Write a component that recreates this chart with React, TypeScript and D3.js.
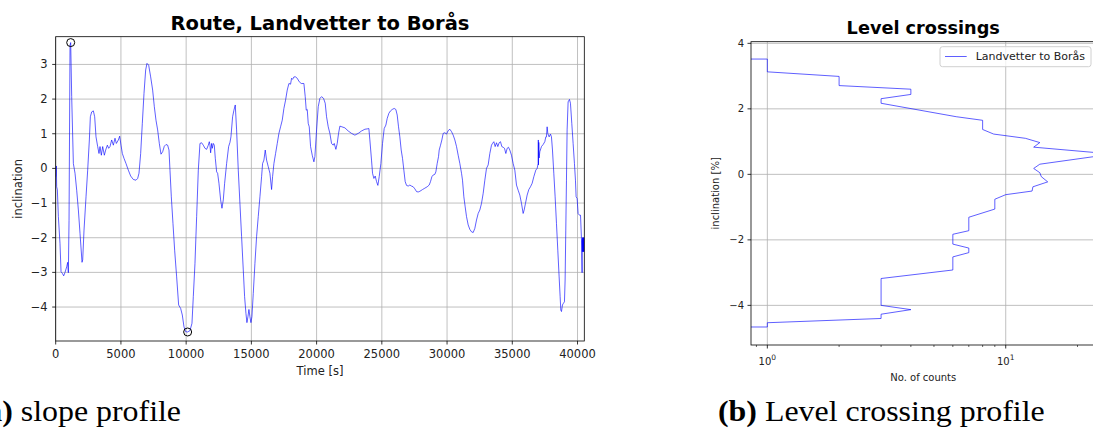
import React from "react";
import * as d3 from "d3";

// Slope profile, Landvetter -> Borås: time [s] and inclination [%]
const timeS = [
  0, 51, 74, 128, 204, 329, 409, 511, 613, 715, 843, 919, 970, 1022, 1098, 1149, 1226, 1354, 1481, 1609,
  1737, 1865, 2018, 2069, 2171, 2324, 2452, 2580, 2656, 2758, 2886, 2988, 3090, 3218, 3320, 3397, 3499, 3601,
  3729, 3831, 3959, 4061, 4163, 4291, 4419, 4546, 4648, 4802, 4904, 5006, 5108, 5236, 5389, 5567, 5746, 5951,
  6155, 6283, 6385, 6513, 6640, 6768, 6896, 6998, 7126, 7279, 7432, 7560, 7688, 7815, 7943, 8071, 8198, 8326,
  8454, 8582, 8684, 8760, 8863, 8990, 9118, 9271, 9424, 9578, 9705, 9833, 9961, 10114, 10293, 10446, 10548,
  10676, 10804, 10931, 11059, 11187, 11315, 11442, 11570, 11698, 11774, 11826, 11877, 11953, 12005, 12081,
  12157, 12234, 12336, 12413, 12515, 12643, 12745, 12847, 12949, 13102, 13256, 13358, 13433, 13560, 13662,
  13765, 13867, 13995, 14122, 14250, 14378, 14480, 14582, 14659, 14735, 14812, 14888, 14965, 15042, 15144,
  15272, 15399, 15527, 15655, 15782, 15859, 15961, 16063, 16165, 16293, 16421, 16549, 16625, 16727, 16855,
  16983, 17110, 17238, 17366, 17493, 17621, 17749, 17877, 18004, 18081, 18158, 18260, 18387, 18515, 18668,
  18822, 19026, 19128, 19205, 19282, 19358, 19435, 19537, 19665, 19792, 19869, 19997, 20124, 20252, 20380,
  20533, 20660, 20763, 20890, 21018, 21146, 21273, 21350, 21478, 21580, 21682, 21784, 21937, 22167, 22423,
  22678, 22934, 23189, 23444, 23700, 23878, 24006, 24083, 24210, 24287, 24389, 24491, 24594, 24696, 24798,
  24926, 25053, 25181, 25309, 25411, 25539, 25666, 25794, 25947, 26075, 26177, 26279, 26381, 26484, 26586,
  26688, 26790, 26892, 27020, 27148, 27275, 27403, 27531, 27660, 27788, 27915, 28120, 28298, 28477, 28630,
  28732, 28835, 28937, 29065, 29141, 29243, 29345, 29397, 29499, 29601, 29703, 29831, 29958, 30086, 30214,
  30342, 30469, 30597, 30725, 30852, 30980, 31108, 31184, 31287, 31389, 31491, 31619, 31746, 31874, 32002,
  32129, 32257, 32385, 32512, 32640, 32768, 32896, 33023, 33151, 33279, 33406, 33483, 33585, 33687, 33789,
  33892, 33994, 34096, 34198, 34300, 34402, 34505, 34607, 34709, 34811, 34939, 35066, 35194, 35322, 35450,
  35577, 35705, 35833, 35909, 36011, 36139, 36267, 36394, 36522, 36650, 36803, 36905, 36982, 36995, 37007,
  37033, 37058, 37109, 37237, 37365, 37493, 37569, 37620, 37671, 37722, 37825, 37927, 38003, 38080, 38182,
  38284, 38387, 38489, 38591, 38668, 38719, 38770, 38846, 38923, 38999, 39050, 39101, 39152, 39203, 39280,
  39382, 39459, 39561, 39663, 39765, 39842, 39893, 39970, 40046, 40149, 40230, 40306, 40352, 40360, 40375,
  40390, 40405, 40420, 40435, 40450, 40465, 40480, 40495, 40506,
];
const slopePct = [
  -0.24, 0.07, -0.53, -0.62, -1.39, -2.16, -2.98, -3.03, -3.1, -3.0, -2.84, -2.71, -3.01, -1.5, 3.55, 3.63,
  2.07, 0.14, -0.14, -0.63, -1.2, -1.88, -2.71, -2.64, -1.78, -0.82, -0.05, 0.82, 1.49, 1.63, 1.66, 1.49, 0.91,
  0.63, 0.43, 0.63, 0.38, 0.63, 0.38, 0.53, 0.67, 0.58, 0.63, 0.82, 0.67, 0.87, 0.72, 0.82, 0.93, 0.67, 0.43,
  0.29, 0.14, -0.05, -0.22, -0.32, -0.34, -0.29, -0.14, 0.43, 1.3, 2.16, 2.84, 3.03, 2.98, 2.64, 2.26, 1.78,
  1.39, 1.11, 0.72, 0.41, 0.48, 0.64, 0.69, 0.67, 0.53, -0.05, -0.82, -1.59, -2.36, -3.13, -3.94, -4.04, -4.23,
  -4.57, -4.71, -4.72, -4.68, -4.47, -3.7, -2.74, -1.39, -0.05, 0.72, 0.74, 0.67, 0.58, 0.55, 0.67, 0.77, 0.67,
  0.45, 0.72, 0.58, 0.72, 0.67, 0.29, -0.1, -0.14, -0.43, -0.91, -1.15, -0.91, -0.43, 0.14, 0.63, 0.75, 0.91,
  1.49, 1.68, 1.83, 1.11, -0.05, -1.01, -1.97, -2.93, -3.7, -4.18, -4.45, -4.28, -4.07, -4.28, -4.45, -4.28,
  -3.61, -2.74, -1.97, -1.39, -0.82, -0.24, 0.14, 0.24, 0.53, 0.24, 0.05, -0.14, -0.61, -0.24, 0.14, 0.43,
  0.72, 1.01, 1.2, 1.39, 1.73, 1.97, 2.26, 2.45, 2.43, 2.6, 2.57, 2.64, 2.64, 2.6, 2.5, 2.45, 2.45, 2.07, 1.68,
  1.7, 1.3, 1.2, 0.63, 0.38, 0.19, 0.34, 1.11, 1.78, 2.02, 2.07, 2.02, 1.88, 1.49, 1.2, 1.01, 0.72, 0.67, 0.72,
  0.55, 0.72, 1.01, 1.22, 1.2, 1.17, 1.08, 1.01, 0.96, 1.01, 1.08, 1.13, 1.14, 1.15, 0.82, 0.24, -0.14, -0.29,
  -0.22, -0.38, -0.49, -0.24, 0.14, 0.72, 1.15, 1.25, 1.44, 1.59, 1.66, 1.7, 1.73, 1.7, 1.54, 1.2, 0.91, 0.53,
  0.29, -0.05, -0.38, -0.49, -0.51, -0.48, -0.51, -0.53, -0.59, -0.67, -0.68, -0.66, -0.61, -0.57, -0.53,
  -0.48, -0.38, -0.24, -0.19, -0.17, -0.1, 0.14, 0.34, 0.53, 0.67, 0.82, 1.01, 1.03, 0.99, 1.09, 1.13, 1.06,
  0.96, 0.82, 0.63, 0.38, 0.14, -0.14, -0.34, -0.82, -1.11, -1.39, -1.63, -1.76, -1.83, -1.85, -1.73, -1.49,
  -1.3, -1.2, -1.01, -0.72, -0.34, 0.0, 0.1, 0.43, 0.67, 0.72, 0.77, 0.63, 0.74, 0.63, 0.74, 0.77, 0.63, 0.61,
  0.58, 0.43, 0.58, 0.61, 0.53, 0.38, 0.14, -0.05, -0.48, -0.63, -0.77, -1.01, -1.3, -1.2, -1.01, -0.77, -0.61,
  -0.53, -0.43, -0.24, -0.05, 0.0, 0.14, 0.82, 0.1, 0.75, 0.3, 0.48, 0.63, 0.69, 0.77, 0.91, 0.91, 1.2, 1.01,
  0.91, 0.99, 0.91, 0.53, -0.14, -0.82, -1.59, -2.36, -3.13, -3.7, -4.09, -4.13, -3.94, -3.89, -3.85, -3.22,
  -1.78, -0.34, 1.11, 1.92, 1.99, 1.88, 1.3, 0.72, 0.14, -0.34, -0.82, -0.87, -1.3, -1.35, -1.35, -2.07, -3.01,
  -2.05, -2.4, -2.0, -2.4, -2.0, -2.4, -2.0, -2.4, -2.0, -2.4, -2.0, -2.3,
];

// Level crossing profile: inclination level [%] and number of crossings
const crossLevel = [
  3.52, 3.52, 3.13, 2.99, 2.71, 2.6, 2.44, 2.31, 2.17, 1.76, 1.65, 1.37, 1.23, 1.1, 0.97, 0.83, 0.62, 0.31,
  0.18, 0.05, -0.07, -0.23, -0.38, -0.51, -0.62, -0.76, -1.06, -1.31, -1.72, -1.83, -2.13, -2.25, -2.39, -2.52,
  -2.92, -3.18, -4.0, -4.13, -4.27, -4.4, -4.53, -4.66, -4.66,
];
const crossCount = [
  0, 1, 1, 2, 2, 4, 4, 3, 3, 6.2, 8, 8, 8.9, 12.1, 13.9, 13.1, 28, 13.9, 13.1, 13.9, 14.1, 15, 13, 12.9, 10,
  9, 9, 7, 7, 6, 6, 7, 7, 6, 6, 3, 3, 4, 3, 3, 1, 1, 0,
];

const timeTicks = [0, 5000, 10000, 15000, 20000, 25000, 30000, 35000, 40000];
const slopeTicks = [-4, -3, -2, -1, 0, 1, 2, 3];
const levelTicks = [-4, -2, 0, 2, 4];
const countMajorTicks = [1, 10];
const countMajorExp = ["0", "1"];

const FONT = "DejaVu Sans, Verdana, sans-serif";
const SERIF = "Liberation Serif, serif";
const LINE = "#0000ff";
const GRID = "#b0b0b0";

export default function App() {
  // left panel frame
  const L = { left: 55.7, right: 584.3, top: 36.7, bottom: 341 };
  const xL = d3.scaleLinear().domain([0, 40520]).range([L.left, L.right]);
  const yL = d3.scaleLinear().domain([-4.98, 3.8]).range([L.bottom, L.top]);

  // right panel frame
  const R = { left: 751, right: 1095.5, top: 41.7, bottom: 345 };
  const xR = d3.scaleLog().domain([0.854, 23.8]).range([R.left, R.right]);
  const yR = d3.scaleLinear().domain([-5.21, 4.05]).range([R.bottom, R.top]);

  const fmt = d3.format("d");

  const slopePts = timeS.map((t, i) => [t, slopePct[i]] as [number, number]);
  const slopePath = d3
    .line<[number, number]>()
    .x((d) => xL(d[0]))
    .y((d) => yL(d[1]))(slopePts) as string;

  const iMax = d3.maxIndex(slopePct);
  const iMin = d3.minIndex(slopePct);

  // zero counts fall below the log axis; they are pushed left and clipped
  const crossPts = crossLevel.map((lv, i) => [crossCount[i], lv] as [number, number]);
  const crossPath = d3
    .line<[number, number]>()
    .x((d) => xR(Math.max(d[0], 0.3)))
    .y((d) => yR(d[1]))(crossPts) as string;

  const minorCounts = xR.ticks().filter((v) => !countMajorTicks.includes(v));

  return (
    <svg
      width={1093}
      height={433}
      style={{ position: "absolute", left: 0, top: 0, background: "#fff" }}
      fontFamily={FONT}
    >
      <defs>
        <clipPath id="clipL">
          <rect x={L.left} y={L.top} width={L.right - L.left} height={L.bottom - L.top} />
        </clipPath>
        <clipPath id="clipR">
          <rect x={R.left} y={R.top} width={R.right - R.left} height={R.bottom - R.top} />
        </clipPath>
      </defs>
      <rect width={1093} height={433} fill="#fff" />

      {/* ---------- slope profile ---------- */}
      <g>
        {timeTicks.map((t) => (
          <line key={"gx" + t} x1={xL(t)} x2={xL(t)} y1={L.top} y2={L.bottom} stroke={GRID} strokeWidth={0.8} />
        ))}
        {slopeTicks.map((v) => (
          <line key={"gy" + v} x1={L.left} x2={L.right} y1={yL(v)} y2={yL(v)} stroke={GRID} strokeWidth={0.8} />
        ))}
        <path d={slopePath} fill="none" stroke={LINE} strokeOpacity={0.7} strokeWidth={0.9} clipPath="url(#clipL)" />
        <circle cx={xL(timeS[iMax])} cy={yL(slopePct[iMax])} r={4} fill="none" stroke="#000" strokeWidth={1} />
        <circle cx={xL(timeS[iMin])} cy={yL(slopePct[iMin])} r={4} fill="none" stroke="#000" strokeWidth={1} />
        <rect x={L.left} y={L.top} width={L.right - L.left} height={L.bottom - L.top} fill="none" stroke="#000" strokeWidth={0.8} />
        {timeTicks.map((t) => (
          <g key={"tx" + t}>
            <line x1={xL(t)} x2={xL(t)} y1={L.bottom} y2={L.bottom + 3.5} stroke="#000" strokeWidth={0.8} />
            <text x={xL(t)} y={L.bottom + 17} textAnchor="middle" fontSize={11.5} fill="#222">
              {fmt(t)}
            </text>
          </g>
        ))}
        {slopeTicks.map((v) => (
          <g key={"ty" + v}>
            <line x1={L.left - 3.5} x2={L.left} y1={yL(v)} y2={yL(v)} stroke="#000" strokeWidth={0.8} />
            <text x={L.left - 8} y={yL(v)} dy="0.35em" textAnchor="end" fontSize={11.5} fill="#222">
              {fmt(v)}
            </text>
          </g>
        ))}
        <text x={(L.left + L.right) / 2} y={375} textAnchor="middle" fontSize={11.5} fill="#222">
          Time [s]
        </text>
        <text
          transform={`translate(22,${(L.top + L.bottom) / 2}) rotate(-90)`}
          textAnchor="middle"
          fontSize={11.5}
          fill="#222"
        >
          inclination
        </text>
        <text x={(L.left + L.right) / 2} y={29.5} textAnchor="middle" fontSize={19.5} fontWeight="bold" fill="#000">
          Route, Landvetter to Borås
        </text>
      </g>

      {/* ---------- level crossing profile ---------- */}
      <g>
        {countMajorTicks.map((c) => (
          <line key={"gcx" + c} x1={xR(c)} x2={xR(c)} y1={R.top} y2={R.bottom} stroke={GRID} strokeWidth={0.8} />
        ))}
        {levelTicks.map((v) => (
          <line key={"gcy" + v} x1={R.left} x2={R.right} y1={yR(v)} y2={yR(v)} stroke={GRID} strokeWidth={0.8} />
        ))}
        <path d={crossPath} fill="none" stroke={LINE} strokeOpacity={0.7} strokeWidth={0.9} clipPath="url(#clipR)" />
        <rect x={R.left} y={R.top} width={R.right - R.left} height={R.bottom - R.top} fill="none" stroke="#000" strokeWidth={0.8} />
        {countMajorTicks.map((c, i) => (
          <g key={"tcx" + c}>
            <line x1={xR(c)} x2={xR(c)} y1={R.bottom} y2={R.bottom + 3.5} stroke="#000" strokeWidth={0.8} />
            <text x={xR(c)} y={R.bottom + 20} textAnchor="middle" fontSize={10} fill="#222">
              10
              <tspan dy={-5} fontSize={7.5}>
                {countMajorExp[i]}
              </tspan>
            </text>
          </g>
        ))}
        {minorCounts.map((c) => (
          <line key={"mcx" + c} x1={xR(c)} x2={xR(c)} y1={R.bottom} y2={R.bottom + 2} stroke="#000" strokeWidth={0.6} />
        ))}
        {levelTicks.map((v) => (
          <g key={"tcy" + v}>
            <line x1={R.left - 3.5} x2={R.left} y1={yR(v)} y2={yR(v)} stroke="#000" strokeWidth={0.8} />
            <text x={R.left - 7} y={yR(v)} dy="0.35em" textAnchor="end" fontSize={10} fill="#222">
              {fmt(v)}
            </text>
          </g>
        ))}
        <text x={(R.left + R.right) / 2} y={381} textAnchor="middle" fontSize={10} fill="#222">
          No. of counts
        </text>
        <text
          transform={`translate(719,${(R.top + R.bottom) / 2}) rotate(-90)`}
          textAnchor="middle"
          fontSize={10}
          fill="#222"
        >
          inclination [%]
        </text>
        <text x={(R.left + R.right) / 2} y={34.3} textAnchor="middle" fontSize={17.7} fontWeight="bold" fill="#000">
          Level crossings
        </text>

        {/* legend */}
        <rect x={940} y={46.7} width={151} height={20} rx={2.5} fill="#fff" fillOpacity={0.8} stroke="#d0d0d0" strokeWidth={1} />
        <line x1={945} x2={966.7} y1={56.5} y2={56.5} stroke={LINE} strokeOpacity={0.7} strokeWidth={0.9} />
        <text x={975.7} y={56.5} dy="0.35em" fontSize={11} fill="#222">
          Landvetter to Borås
        </text>
      </g>

      {/* ---------- captions ---------- */}
      <text transform="translate(181,421) scale(1.1,1)" textAnchor="end" fontFamily={SERIF} fontSize={29} fill="#000">
        <tspan fontWeight="bold">(a)</tspan> slope profile
      </text>
      <text transform="translate(718,421) scale(1.1,1)" fontFamily={SERIF} fontSize={29} fill="#000">
        <tspan fontWeight="bold">(b)</tspan> Level crossing profile
      </text>
    </svg>
  );
}
